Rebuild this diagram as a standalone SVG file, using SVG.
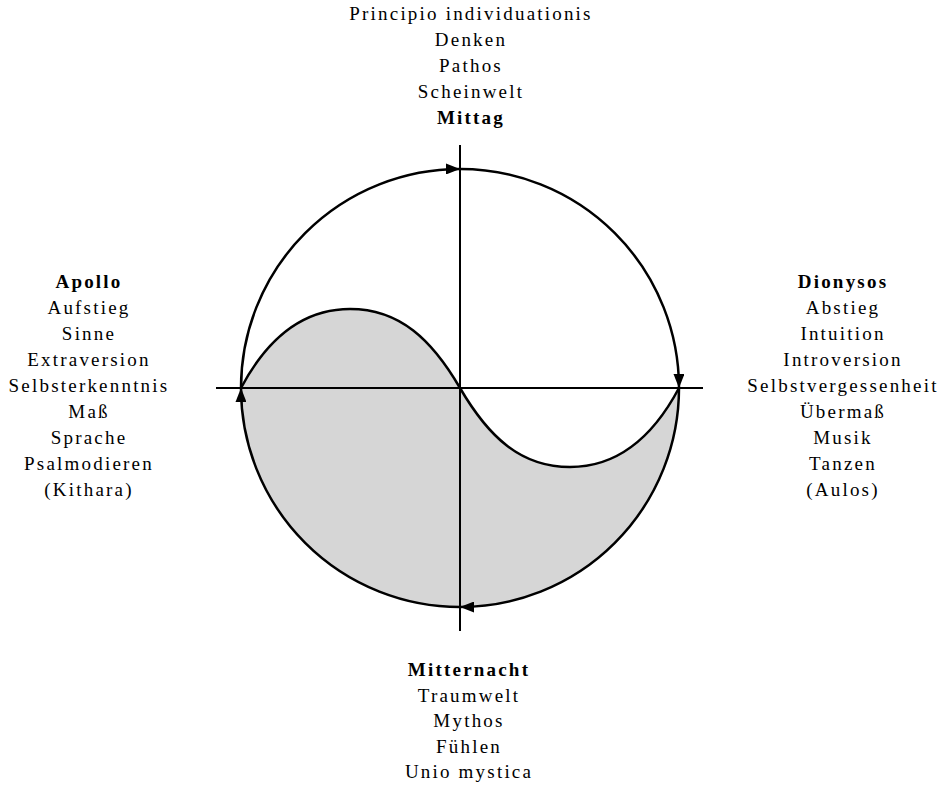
<svg xmlns="http://www.w3.org/2000/svg" width="944" height="785" viewBox="0 0 944 785">
  <style>
    text { font-family: "Liberation Serif", "Times New Roman", serif; font-size: 19px; letter-spacing: 2.2px; fill: #000; text-anchor: middle; }
    .b { font-weight: bold; }
    .arc { fill: none; stroke: #000; stroke-width: 2.5; }
    .axis { fill: none; stroke: #000; stroke-width: 2; }
    .s { fill: none; stroke: #000; stroke-width: 2.5; }
  </style>
  <defs>
    <marker id="ah" markerUnits="userSpaceOnUse" markerWidth="15" markerHeight="11" refX="14" refY="5.5" orient="auto">
      <path d="M0,0 L14,5.5 L0,11 z" fill="#000"/>
    </marker>
  </defs>
  <rect width="944" height="785" fill="#fff"/>

  <g id="shade">
    <path d="M241,388 C258,356 290,309 350,309 C400,309 432,340 460,388 C488,436 520,467 570,467 C630,467 662,420 679,388 A219,219 0 0 1 241,388 z" fill="#d6d6d6"/>
  </g>

  <g id="connectors">
    <line class="axis" x1="216" y1="388" x2="703" y2="388"/>
    <line class="axis" x1="460" y1="145" x2="460" y2="631"/>
    <path class="arc" d="M241,388 A219,219 0 0 1 460,169" marker-end="url(#ah)"/>
    <path class="arc" d="M460,169 A219,219 0 0 1 679,388" marker-end="url(#ah)"/>
    <path class="arc" d="M679,388 A219,219 0 0 1 460,607" marker-end="url(#ah)"/>
    <path class="arc" d="M460,607 A219,219 0 0 1 241,388" marker-end="url(#ah)"/>
    <path class="s" d="M241,388 C258,356 290,309 350,309 C400,309 432,340 460,388 C488,436 520,467 570,467 C630,467 662,420 679,388"/>
  </g>

  <g id="node-mittag">
    <text x="471" y="20">Principio individuationis</text>
    <text x="471" y="46">Denken</text>
    <text x="471" y="72">Pathos</text>
    <text x="471" y="98">Scheinwelt</text>
    <text x="471" y="124" class="b">Mittag</text>
  </g>

  <g id="node-apollo">
    <text x="89" y="288" class="b">Apollo</text>
    <text x="89" y="314">Aufstieg</text>
    <text x="89" y="340">Sinne</text>
    <text x="89" y="366">Extraversion</text>
    <text x="89" y="392">Selbsterkenntnis</text>
    <text x="89" y="418">Maß</text>
    <text x="89" y="444">Sprache</text>
    <text x="89" y="470">Psalmodieren</text>
    <text x="89" y="496">(Kithara)</text>
  </g>

  <g id="node-dionysos">
    <text x="843" y="288" class="b">Dionysos</text>
    <text x="843" y="314">Abstieg</text>
    <text x="843" y="340">Intuition</text>
    <text x="843" y="366">Introversion</text>
    <text x="843" y="392">Selbstvergessenheit</text>
    <text x="843" y="418">Übermaß</text>
    <text x="843" y="444">Musik</text>
    <text x="843" y="470">Tanzen</text>
    <text x="843" y="496">(Aulos)</text>
  </g>

  <g id="node-mitternacht">
    <text x="469" y="676" class="b">Mitternacht</text>
    <text x="469" y="701.5">Traumwelt</text>
    <text x="469" y="727">Mythos</text>
    <text x="469" y="752.5">Fühlen</text>
    <text x="469" y="778">Unio mystica</text>
  </g>
</svg>
